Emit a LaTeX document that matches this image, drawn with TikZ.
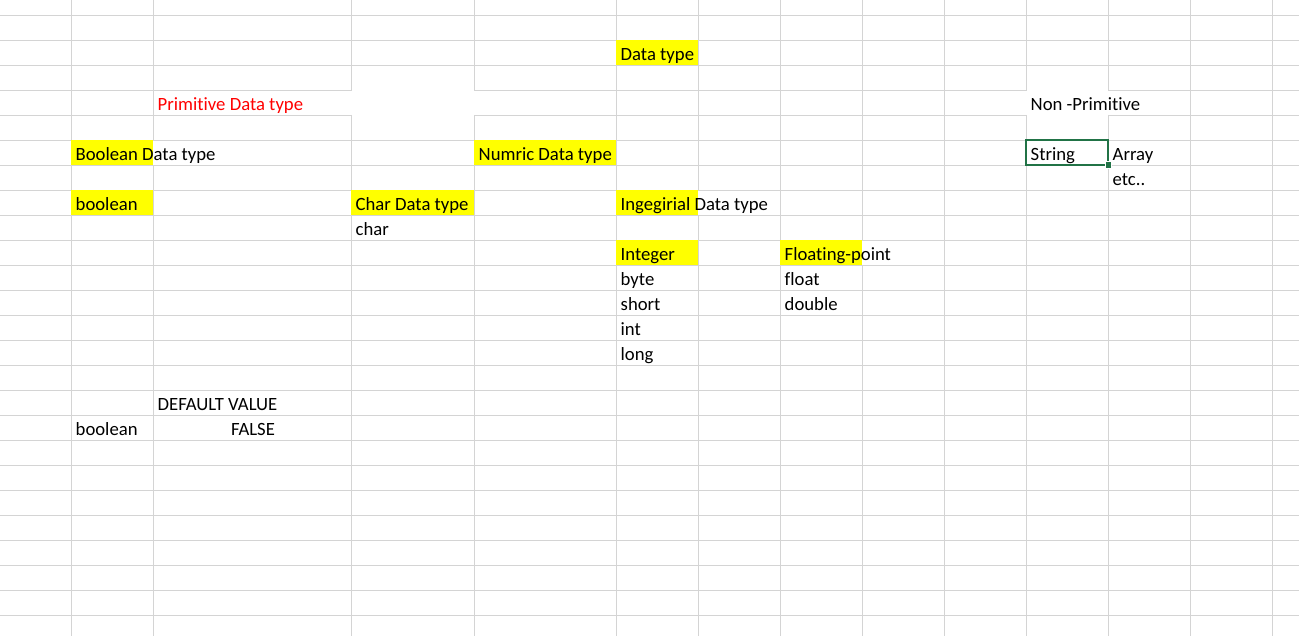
\documentclass[tikz,border=0pt]{standalone}
\usepackage{fontspec}
\setmainfont[Ligatures=NoCommon]{Carlito}
\definecolor{gridgray}{RGB}{212,212,212}
\definecolor{xlgreen}{RGB}{33,115,70}
\definecolor{xlyellow}{RGB}{255,255,0}
\definecolor{xlred}{RGB}{255,0,0}
\begin{document}
\begin{tikzpicture}[x=1pt,y=-1pt,
  font=\fontsize{18.7}{22}\selectfont,
  gridline/.style={draw=gridgray,line width=1pt},
  hlcell/.style={fill=xlyellow},
  cell/.style={anchor=base west,inner sep=0pt,text=black},
  ccell/.style={anchor=base,inner sep=0pt,text=black}]
\useasboundingbox (0,0) rectangle (1299,636);
\fill[white] (0,0) rectangle (1299,636);
% horizontal grid lines
\foreach \y in {15.5,40.5,65.5,140.5,165.5,190.5,215.5,240.5,265.5,290.5,315.5,340.5,365.5,390.5,415.5,440.5,465.5,490.5,515.5,540.5,565.5,590.5,615.5}
  \draw[gridline] (0,\y) -- (1299,\y);
\foreach \y in {90.5,115.5}{
  \draw[gridline] (0,\y) -- (352,\y);
  \draw[gridline] (474,\y) -- (1027,\y);
  \draw[gridline] (1108,\y) -- (1299,\y);
}
% vertical grid lines
\foreach \x in {71.5,616.5,780.5,944.5,1190.5,1272.5}
  \draw[gridline] (\x,0) -- (\x,636);
\foreach \x in {351.5,474.5,1026.5,1108.5}{
  \draw[gridline] (\x,0) -- (\x,91);
  \draw[gridline] (\x,115) -- (\x,636);
}
\draw[gridline] (153.5,0) -- (153.5,141); \draw[gridline] (153.5,165) -- (153.5,636);
\draw[gridline] (698.5,0) -- (698.5,191); \draw[gridline] (698.5,215) -- (698.5,636);
\draw[gridline] (862.5,0) -- (862.5,241); \draw[gridline] (862.5,265) -- (862.5,636);
% highlighted cells
\fill[hlcell] (616,40) rectangle (698,65);
\fill[hlcell] (71,140) rectangle (153,165);
\fill[hlcell] (474,140) rectangle (616,165);
\fill[hlcell] (71,190) rectangle (153,215);
\fill[hlcell] (351,190) rectangle (474,215);
\fill[hlcell] (616,190) rectangle (698,215);
\fill[hlcell] (616,240) rectangle (698,265);
\fill[hlcell] (780,240) rectangle (862,265);
% texts
\node[cell] (dt) at (620.5,60.5) {Data type};
\node[cell,text=xlred] (prim) at (157.5,110.5) {Primitive Data type};
\node[cell] (nonprim) at (1030.5,110.5) {Non -Primitive};
\node[cell] (booldt) at (75.5,160.5) {Boolean Data type};
\node[cell] (numdt) at (478.5,160.5) {Numric Data type};
\node[cell] (str) at (1030.5,160.5) {String};
\node[cell] (arr) at (1112.5,160.5) {Array};
\node[cell] (etc) at (1112.5,185.5) {etc..};
\node[cell] (boolv) at (75.5,210.5) {boolean};
\node[cell] (chardt) at (355.5,210.5) {Char Data type};
\node[cell] (intdt) at (620.5,210.5) {Ingegirial Data type};
\node[cell] (charv) at (355.5,235.5) {char};
\node[cell] (integer) at (620.5,260.5) {Integer};
\node[cell] (floatp) at (784.5,260.5) {Floating-point};
\node[cell] (byte) at (620.5,285.5) {byte};
\node[cell] (short) at (620.5,310.5) {short};
\node[cell] (int) at (620.5,335.5) {int};
\node[cell] (long) at (620.5,360.5) {long};
\node[cell] (float) at (784.5,285.5) {float};
\node[cell] (double) at (784.5,310.5) {double};
\node[cell] (defval) at (157.5,410.5) {DEFAULT VALUE};
\node[cell] (boolb) at (75.5,435.5) {boolean};
\node[ccell] (false) at (253,435.5) {FALSE};
% selection
\draw[xlgreen,line width=2pt] (1026.3,140) rectangle (1108.3,165);
\filldraw[fill=xlgreen,draw=white,line width=1pt] (1105,162) rectangle (1111.5,168.5);
\end{tikzpicture}
\end{document}
